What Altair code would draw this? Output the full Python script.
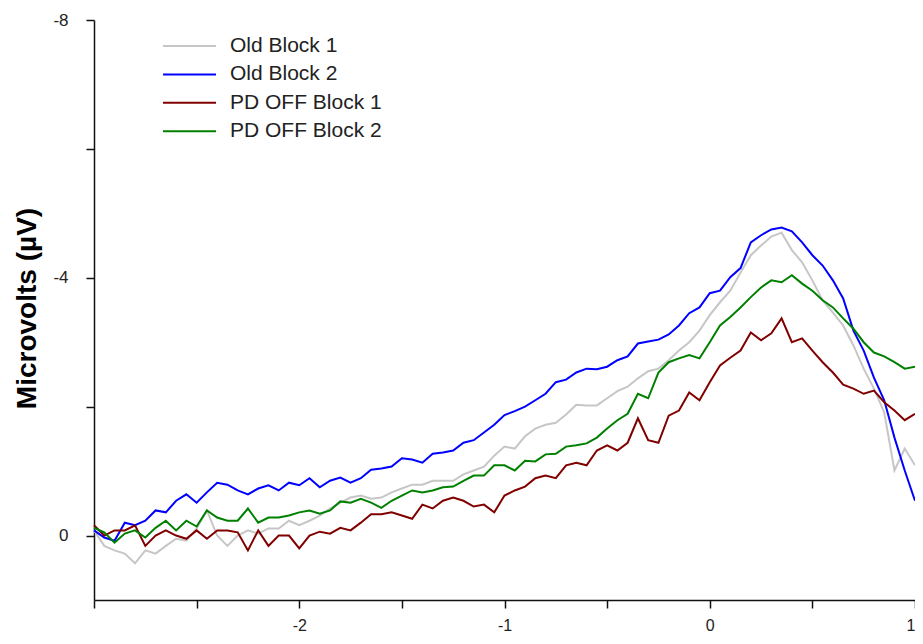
import altair as alt
import numpy as np
import pandas as pd

# time axis (s), sampled every 0.05 from -3 to 1
time_s = [round(-3 + 0.05 * k, 2) for k in range(81)]

old_block_1 = [
    -0.08, 0.16, 0.23, 0.28, 0.43, 0.23, 0.28, 0.16, 0.05, 0.08,
    -0.11, -0.39, 0.00, 0.16, 0.00, -0.08, -0.03, -0.11, -0.11, -0.23,
    -0.16, -0.23, -0.31, -0.42, -0.51, -0.59, -0.62, -0.57, -0.59, -0.67,
    -0.73, -0.79, -0.79, -0.85, -0.85, -0.85, -0.95, -1.01, -1.07, -1.24,
    -1.38, -1.35, -1.54, -1.66, -1.72, -1.75, -1.88, -2.03, -2.02, -2.02,
    -2.13, -2.24, -2.31, -2.44, -2.55, -2.59, -2.72, -2.87, -3.00, -3.18,
    -3.42, -3.62, -3.80, -4.08, -4.35, -4.50, -4.64, -4.70, -4.43, -4.24,
    -3.96, -3.65, -3.46, -3.26, -2.95, -2.59, -2.28, -1.91, -1.01, -1.35,
    -1.09,
]
old_block_2 = [
    -0.08, 0.03, 0.08, -0.20, -0.16, -0.23, -0.39, -0.36, -0.54, -0.64,
    -0.51, -0.67, -0.82, -0.79, -0.70, -0.64, -0.73, -0.78, -0.70, -0.82,
    -0.78, -0.89, -0.75, -0.85, -0.90, -0.82, -0.89, -1.02, -1.04, -1.07,
    -1.20, -1.18, -1.13, -1.27, -1.29, -1.32, -1.44, -1.48, -1.60, -1.72,
    -1.87, -1.93, -2.00, -2.10, -2.20, -2.38, -2.42, -2.53, -2.59, -2.58,
    -2.62, -2.72, -2.78, -2.98, -3.01, -3.04, -3.12, -3.26, -3.45, -3.54,
    -3.76, -3.80, -4.01, -4.15, -4.55, -4.66, -4.75, -4.78, -4.72, -4.55,
    -4.35, -4.19, -3.96, -3.68, -3.18, -2.87, -2.45, -2.10, -1.52, -1.01,
    -0.54,
]
pd_off_block_1 = [
    -0.16, 0.00, -0.08, -0.08, -0.16, 0.16, 0.00, -0.08, 0.00, 0.05,
    -0.08, 0.05, -0.08, -0.08, -0.05, 0.23, -0.08, 0.16, 0.00, 0.00,
    0.20, 0.00, -0.06, -0.03, -0.12, -0.08, -0.20, -0.33, -0.33, -0.36,
    -0.31, -0.26, -0.48, -0.42, -0.54, -0.59, -0.54, -0.45, -0.48, -0.36,
    -0.62, -0.70, -0.76, -0.89, -0.93, -0.89, -1.09, -1.13, -1.09, -1.32,
    -1.40, -1.32, -1.44, -1.82, -1.48, -1.44, -1.86, -1.94, -2.22, -2.10,
    -2.38, -2.64, -2.76, -2.87, -3.15, -3.03, -3.14, -3.37, -3.00, -3.06,
    -2.87, -2.69, -2.53, -2.34, -2.28, -2.20, -2.25, -2.07, -1.94, -1.79,
    -1.89,
]
pd_off_block_2 = [
    -0.12, -0.05, 0.11, -0.03, -0.08, 0.03, -0.12, -0.23, -0.08, -0.23,
    -0.14, -0.39, -0.28, -0.23, -0.23, -0.42, -0.20, -0.28, -0.28, -0.31,
    -0.36, -0.39, -0.34, -0.39, -0.53, -0.51, -0.57, -0.51, -0.43, -0.54,
    -0.62, -0.70, -0.67, -0.70, -0.75, -0.76, -0.85, -0.93, -0.93, -1.09,
    -1.09, -1.01, -1.16, -1.15, -1.26, -1.27, -1.38, -1.40, -1.43, -1.52,
    -1.66, -1.79, -1.89, -2.20, -2.13, -2.53, -2.69, -2.75, -2.80, -2.75,
    -3.00, -3.26, -3.39, -3.54, -3.70, -3.85, -3.96, -3.93, -4.04, -3.91,
    -3.80, -3.65, -3.54, -3.37, -3.21, -3.00, -2.84, -2.78, -2.69, -2.59,
    -2.62,
]

series_names = ["Old Block 1", "Old Block 2", "PD OFF Block 1", "PD OFF Block 2"]
series_colors = ["#c6c6c6", "#0000ff", "#800000", "#008000"]
series_values = [old_block_1, old_block_2, pd_off_block_1, pd_off_block_2]

x_ticks = [-3, -2.5, -2, -1.5, -1, -0.5, 0, 0.5, 1]
y_ticks = [-8, -6, -4, -2, 0]

rows = []
for name, vals in zip(series_names, series_values):
    for t, v in zip(time_s, vals):
        rows.append({"time": t, "uv": v, "series": name})
df = pd.DataFrame(rows)

FONT = "Liberation Sans"

chart = alt.Chart(df).mark_line(strokeWidth=2, strokeJoin="miter").encode(
    x=alt.X(
        "time:Q",
        scale=alt.Scale(domain=[-3, 1], nice=False, zero=False),
        axis=alt.Axis(
            title=None,
            values=x_ticks,
            grid=False,
            labelExpr="datum.value == -3 || datum.value != round(datum.value) ? '' : '' + datum.value",
            labelFlush=True,
            labelOverlap=False,
            labelFontSize=16,
            labelPadding=9,
            tickSize=8,
        ),
    ),
    y=alt.Y(
        "uv:Q",
        scale=alt.Scale(domain=[-8, 1], reverse=True, nice=False, zero=False),
        axis=alt.Axis(
            title="Microvolts (µV)",
            values=y_ticks,
            grid=False,
            labelExpr="datum.value % 4 == 0 ? '' + datum.value : ''",
            labelFlush=False,
            labelOverlap=False,
            labelFontSize=17,
            labelPadding=18,
            tickSize=8,
            titleFontSize=28,
            titleFontWeight="bold",
            titleX=-67,
            titleY=288,
            titleAngle=-90,
            titleAlign="center",
            titleBaseline="middle",
        ),
    ),
    color=alt.Color(
        "series:N",
        scale=alt.Scale(domain=series_names, range=series_colors),
        legend=alt.Legend(
            title=None,
            orient="none",
            legendX=68,
            legendY=12,
            symbolType="stroke",
            symbolSize=2809,
            symbolStrokeWidth=2,
            labelFontSize=21,
            labelOffset=13,
            clipHeight=28,
            rowPadding=0.4,
            padding=0,
        ),
    ),
    order=alt.Order("time:Q"),
).properties(
    width=821,
    height=580,
    autosize=alt.AutoSizeParams(type="none"),
    padding={"left": 86, "top": 12, "right": 0, "bottom": 36},
).configure_view(
    stroke=None
).configure_axis(
    domainColor="#111111",
    domainWidth=1.5,
    tickColor="#111111",
    tickWidth=1.5,
    labelColor="#222222",
    titleColor="#000000",
    labelFont=FONT,
    titleFont=FONT,
).configure_legend(
    labelFont=FONT,
    labelColor="#222222",
)

chart.save("out.html", embed_options={"renderer": "svg", "actions": False})
